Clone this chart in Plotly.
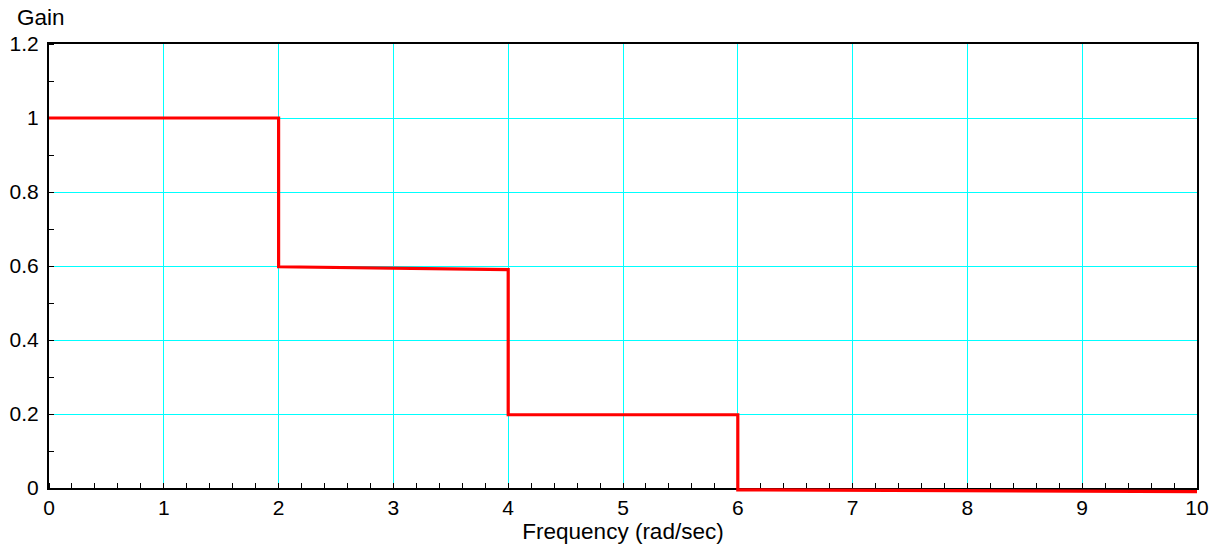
import plotly.graph_objects as go

freq = [0, 2, 2, 4, 4, 6, 6, 10]
gain = [1.0, 1.0, 0.598, 0.590, 0.198, 0.198, -0.005, -0.010]

x_ticks = list(range(0, 11))
y_ticks = [0, 0.2, 0.4, 0.6, 0.8, 1, 1.2]
y_tick_labels = ["0", "0.2", "0.4", "0.6", "0.8", "1", "1.2"]

FAM = "Liberation Sans, Arial, sans-serif"
tick_font = dict(family=FAM, size=21, color="black")
title_font = dict(family=FAM, size=22.5, color="black")

# plot area geometry (pixels) so the line can dip slightly below the zero axis
top_m, bot_m = 44, 51
area_h = 545 - top_m - bot_m
extra = 7
px_per_unit = (area_h - extra) / 1.2

fig = go.Figure()
# empty trace keeps the main (framed) subplot
fig.add_trace(go.Scatter(x=[None], y=[None], xaxis="x", yaxis="y",
                         showlegend=False, hoverinfo="skip"))
fig.add_trace(go.Scatter(x=freq, y=gain, mode="lines", xaxis="x2", yaxis="y2",
                         line=dict(color="#ff0000", width=3.2), showlegend=False))

fig.update_layout(
    width=1223, height=545,
    margin=dict(l=49, r=26, t=top_m, b=bot_m - 1, autoexpand=False),
    paper_bgcolor="white", plot_bgcolor="rgba(0,0,0,0)",
    font=tick_font,
    xaxis=dict(range=[0, 10], tickvals=x_ticks, ticktext=[str(v) for v in x_ticks],
               anchor="y", domain=[0, 1], automargin=False,
               showgrid=True, gridcolor="#00ffff", gridwidth=1,
               showline=True, linecolor="black", linewidth=2, mirror=True,
               ticks="", zeroline=False, tickfont=tick_font, ticklabelstandoff=0,
               minor=dict(dtick=0.2, ticks="inside", ticklen=5, tickcolor="black",
                          tickwidth=1, showgrid=False, gridcolor="#00ffff"),
               title=dict(text="Frequency (rad/sec)", font=title_font, standoff=0)),
    yaxis=dict(range=[0, 1.2], tickvals=y_ticks, ticktext=y_tick_labels,
               anchor="x", domain=[extra / (area_h + 1), 1], automargin=False,
               showgrid=True, gridcolor="#00ffff", gridwidth=1,
               showline=True, linecolor="black", linewidth=2, mirror=True,
               ticks="", zeroline=False, tickfont=tick_font, ticklabelstandoff=4,
               minor=dict(dtick=0.1, ticks="inside", ticklen=5, tickcolor="black",
                          tickwidth=1, showgrid=False, gridcolor="#00ffff")),
    xaxis2=dict(range=[0, 10], domain=[0, 1], anchor="y2", visible=False,
                showgrid=False, zeroline=False, automargin=False),
    yaxis2=dict(range=[-extra / px_per_unit, 1.2], domain=[0, 1], anchor="x2",
                visible=False, showgrid=False, zeroline=False, automargin=False),
    annotations=[dict(text="Gain", x=0, y=1.2, xref="x", yref="y",
                      xanchor="center", yanchor="bottom", xshift=-8, yshift=12,
                      showarrow=False, font=title_font)],
)

fig.write_html("out.html")
